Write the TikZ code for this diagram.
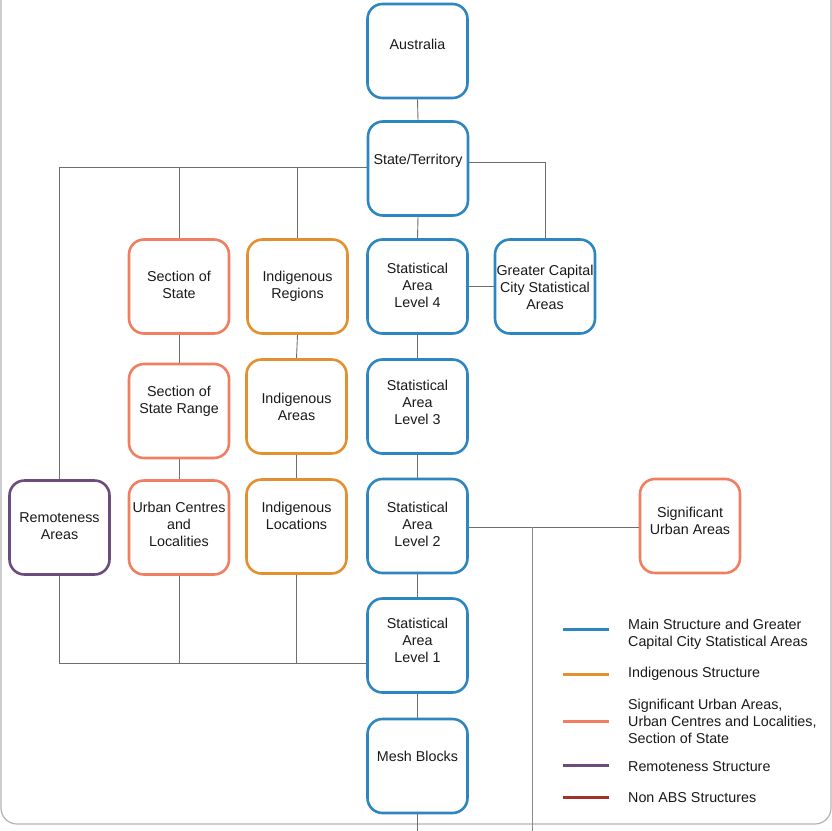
\documentclass[tikz,border=0pt]{standalone}
\usepackage{fontspec}
\setmainfont{Liberation Sans}
\definecolor{mainblue}{RGB}{46,134,193}
\definecolor{indorange}{RGB}{226,144,48}
\definecolor{salmon}{RGB}{240,126,96}
\definecolor{remote}{RGB}{108,76,126}
\definecolor{nonabs}{RGB}{160,50,40}
\definecolor{connc}{RGB}{110,110,110}
\definecolor{framec}{RGB}{178,178,178}
\definecolor{txt}{RGB}{25,25,25}
\begin{document}
\begin{tikzpicture}[x=1pt,y=-1pt,
  every node/.style={font=\fontsize{14.3pt}{17pt}\selectfont, text=txt},
  box/.style={draw=#1, line width=2.6pt, rounded corners=15pt, minimum width=100pt, minimum height=94pt, inner sep=0pt},
  lbl/.style={align=center, inner sep=0pt, anchor=center},
  conn/.style={draw=connc, line width=0.9pt},
  legline/.style={draw=#1, line width=3pt},
  legtext/.style={anchor=west, align=left, inner sep=0pt}]
\useasboundingbox (0,0) rectangle (832,830);
% frame
\draw[framec, line width=1.2pt, rounded corners=16pt] (1,-40) -- (1,824) -- (831,824) -- (831,-40);
% boxes
\node[box=mainblue, label={[lbl,yshift=7pt]center:Australia}] (aus) at (417.5,51) {};
\node[box=mainblue, label={[lbl,yshift=7.5pt]center:State/Territory}] (state) at (418,168.5) {};
\node[box=mainblue, label={[lbl,yshift=1pt]center:{Statistical\\Area\\Level 4}}] (sa4) at (417.5,286.5) {};
\node[box=mainblue, label={[lbl,yshift=-0.5pt]center:{Greater Capital\\City Statistical\\Areas}}] (gcc) at (545,286.5) {};
\node[box=salmon, label={[lbl,yshift=1.5pt]center:{Section of\\State}}] (sos) at (179,286.5) {};
\node[box=indorange, label={[lbl,yshift=0.5pt]center:{Indigenous\\Regions}}] (ir) at (297.5,286.5) {};
\node[box=salmon, label={[lbl,yshift=9.5pt]center:{Section of\\State Range}}] (sosr) at (179,411) {};
\node[box=indorange, label={[lbl,yshift=-0.5pt]center:{Indigenous\\Areas}}] (ia) at (296.5,406.5) {};
\node[box=mainblue, label={[lbl,yshift=4pt]center:{Statistical\\Area\\Level 3}}] (sa3) at (417.5,406.5) {};
\node[box=remote, label={[lbl,yshift=1.5pt]center:{Remoteness\\Areas}}] (ra) at (59.5,527.5) {};
\node[box=salmon, label={[lbl,yshift=3pt]center:{Urban Centres\\and\\Localities}}] (ucl) at (179,527.5) {};
\node[box=indorange, label={[lbl,yshift=10.5pt]center:{Indigenous\\Locations}}] (il) at (296.5,526.5) {};
\node[box=mainblue, label={[lbl,yshift=1.5pt]center:{Statistical\\Area\\Level 2}}] (sa2) at (417.5,526) {};
\node[box=salmon, label={[lbl,yshift=5pt]center:{Significant\\Urban Areas}}] (sua) at (690,526) {};
\node[box=mainblue, label={[lbl,yshift=5pt]center:{Statistical\\Area\\Level 1}}] (sa1) at (417.5,645.5) {};
\node[box=mainblue, label={[lbl,yshift=9.5pt]center:Mesh Blocks}] (mb) at (417.5,766) {};
% connectors
\draw[conn] (aus.south) -- (state.north);
\draw[conn] (state.south) -- (sa4.north);
\draw[conn] (sa4.south) -- (sa3.north);
\draw[conn] (sa3.south) -- (sa2.north);
\draw[conn] (sa2.south) -- (sa1.north);
\draw[conn] (sa1.south) -- (mb.north);
\coordinate (mbend) at (417.5,840);
\draw[conn] (mb.south) -- (mbend);
\coordinate (stl) at ([yshift=1.5pt]state.west);
\draw[conn] (stl) -- (ra.north |- stl) -- (ra.north);
\draw[conn] (sos.north) -- (sos.north |- stl);
\draw[conn] (ir.north) -- (ir.north |- stl);
\coordinate (str) at ([yshift=6.5pt]state.east);
\draw[conn] (str) -- (gcc.north |- str) -- (gcc.north);
\draw[conn] (sa4.east) -- (gcc.west);
\draw[conn] (sos.south) -- (sosr.north);
\draw[conn] (sosr.south) -- (ucl.north);
\draw[conn] (ir.south) -- (ia.north);
\draw[conn] (ia.south) -- (il.north);
\coordinate (s2r) at ([yshift=-1pt]sa2.east);
\coordinate (sua2) at (sua.west |- s2r);
\draw[conn] (s2r) -- (sua2);
\coordinate (vtop) at (532,527);
\coordinate (vend) at (532,840);
\draw[conn, draw=connc!80] (vtop) -- (vend);
\coordinate (bl) at ([yshift=-17.5pt]sa1.west);
\draw[conn] (bl) -- (ra.south |- bl) -- (ra.south);
\draw[conn] (ucl.south) -- (ucl.south |- bl);
\draw[conn] (il.south) -- (il.south |- bl);
% legend
\coordinate (l1a) at (563,629); \coordinate (l1b) at (609,629);
\coordinate (l2a) at (563,674); \coordinate (l2b) at (609,674);
\coordinate (l3a) at (563,721); \coordinate (l3b) at (609,721);
\coordinate (l4a) at (563,765); \coordinate (l4b) at (609,765);
\coordinate (l5a) at (563,797); \coordinate (l5b) at (609,797);
\draw[legline=mainblue] (l1a) -- (l1b);
\draw[legline=indorange] (l2a) -- (l2b);
\draw[legline=salmon] (l3a) -- (l3b);
\draw[legline=remote] (l4a) -- (l4b);
\draw[legline=nonabs] (l5a) -- (l5b);
\node[legtext] (t1) at (628,634) {Main Structure and Greater\\Capital City Statistical Areas};
\node[legtext] (t2) at (628,674) {Indigenous Structure};
\node[legtext] (t3) at (628,721) {Significant Urban Areas,\\Urban Centres and Localities,\\Section of State};
\node[legtext] (t4) at (628,767) {Remoteness Structure};
\node[legtext] (t5) at (628,798) {Non ABS Structures};
\end{tikzpicture}
\end{document}
